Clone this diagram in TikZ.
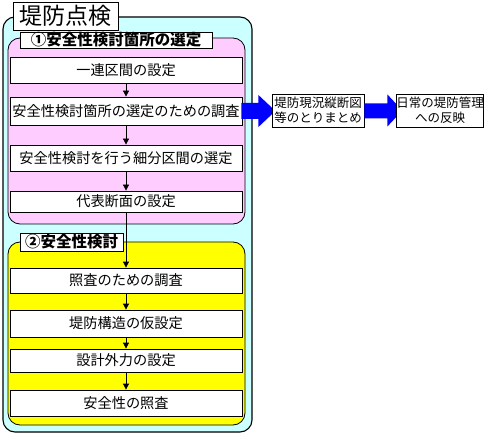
\documentclass[tikz,border=0pt]{standalone}
\usepackage{fontspec}
\newfontfamily\jp{Noto Sans CJK JP}
\usetikzlibrary{arrows.meta,calc}
\definecolor{cyanbg}{RGB}{204,255,255}
\definecolor{pinkbg}{RGB}{255,204,255}
\definecolor{yellowbg}{RGB}{255,255,0}
\begin{document}
\begin{tikzpicture}[x=1pt,y=-1pt,font=\jp,
  stepbox/.style={draw=black,line width=0.8pt,fill=white,minimum width=232pt,inner sep=0pt,font=\jp\fontsize{14.2}{16}\selectfont},
  sidebox/.style={draw=black,line width=0.8pt,fill=white,inner sep=0pt,align=center,font=\jp\fontsize{12.5}{15}\selectfont},
  grouplabel/.style={draw=black,line width=0.8pt,fill=white,inner sep=0pt,font=\jp\bfseries\fontsize{15.5}{17}\selectfont},
  flow/.style={line width=0.8pt,-{Triangle[length=6pt,width=6pt]}},
  bigarrow/.style={fill={rgb,255:red,0;green,0;blue,255}}]
\useasboundingbox (0,0) rectangle (500,438);
% outer cyan container
\draw[fill=cyanbg,line width=1.1pt,rounded corners=12pt] (3,17) rectangle (252,432);
\node[draw=black,line width=0.8pt,fill=white,minimum width=105pt,minimum height=28pt,inner sep=0pt,font=\jp\fontsize{23}{25}\selectfont] (title) at (65.5,16) {堤防点検};
% pink group
\draw[fill=pinkbg,line width=0.8pt,rounded corners=12pt] (8,38) rectangle (245,224);
\node[grouplabel,minimum width=192pt,minimum height=16pt] (lab1) at (116,40) {①安全性検討箇所の選定};
\node[stepbox,minimum height=26pt] (b1) at (126,70) {一連区間の設定};
\node[stepbox,minimum height=28pt] (b2) at (126,111) {安全性検討箇所の選定のための調査};
\node[stepbox,minimum height=26pt] (b3) at (126,158) {安全性検討を行う細分区間の選定};
\node[stepbox,minimum height=21pt] (b4) at (126,201.5) {代表断面の設定};
% yellow group
\draw[fill=yellowbg,line width=0.8pt,rounded corners=12pt] (8,242) rectangle (245,425);
\node[grouplabel,minimum width=103pt,minimum height=18pt] (lab2) at (71.5,242) {②安全性検討};
\node[stepbox,minimum height=25pt] (b5) at (126,280.5) {照査のための調査};
\node[stepbox,minimum height=27pt] (b6) at (126,323.5) {堤防構造の仮設定};
\node[stepbox,minimum height=23pt] (b7) at (126,360.5) {設計外力の設定};
\node[stepbox,minimum height=26pt] (b8) at (126,403) {安全性の照査};
% block arrows
\fill[bigarrow] ($(b2.east)+(-1,-8)$) -- ($(b2.east)+(16,-8)$) -- ($(b2.east)+(16,-16)$) -- ($(b2.east)+(33,0)$) -- ($(b2.east)+(16,16)$) -- ($(b2.east)+(16,8)$) -- ($(b2.east)+(-1,8)$) -- cycle;
\node[sidebox,minimum width=92pt,minimum height=33pt] (s1) at (318,110.5) {堤防現況縦断図\\等のとりまとめ};
\fill[bigarrow] ($(s1.east)+(0,-7)$) -- ($(s1.east)+(23,-7)$) -- ($(s1.east)+(23,-16)$) -- ($(s1.east)+(38,0)$) -- ($(s1.east)+(23,16)$) -- ($(s1.east)+(23,8)$) -- ($(s1.east)+(0,8)$) -- cycle;
\node[sidebox,minimum width=86pt,minimum height=33pt] (s2) at (440,110.5) {日常の堤防管理\\への反映};
% flow arrows
\draw[flow] (b1.south) -- (b2.north);
\draw[flow] (b2.south) -- (b3.north);
\draw[flow] (b3.south) -- (b4.north);
\draw[flow] (b4.south) -- (b5.north);
\draw[flow] (b5.south) -- (b6.north);
\draw[flow] (b6.south) -- (b7.north);
\draw[flow] (b7.south) -- (b8.north);
\end{tikzpicture}
\end{document}
